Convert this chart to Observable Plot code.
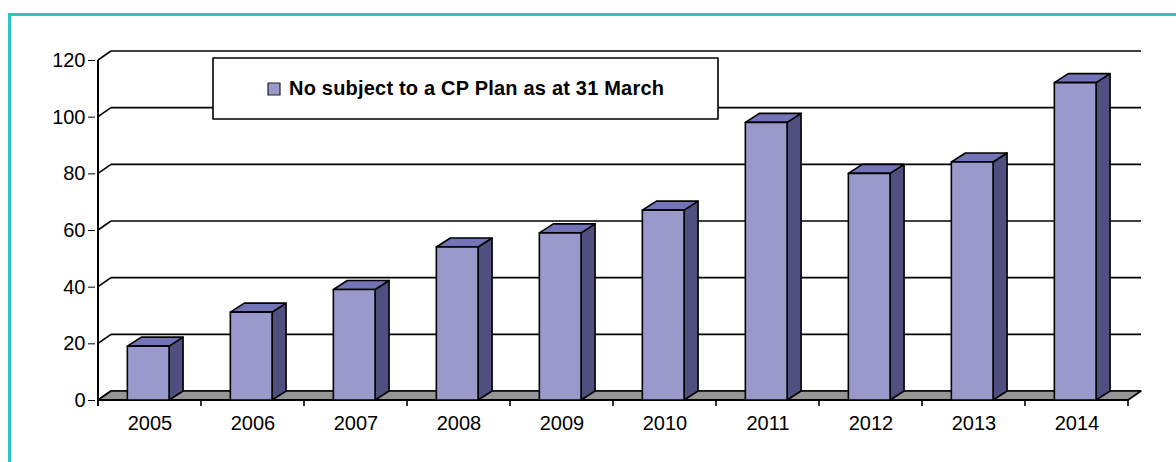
<!DOCTYPE html>
<html>
<head>
<meta charset="utf-8">
<script src="https://cdn.jsdelivr.net/npm/d3@7"></script>
<script src="https://cdn.jsdelivr.net/npm/@observablehq/plot@0.6"></script>
<style>
  html, body { margin: 0; padding: 0; background: #fff; }
  #wrap { position: relative; width: 1176px; height: 462px; overflow: hidden; }
  #frame { position: absolute; left: 8px; top: 13px; width: 1200px; height: 500px;
           border: 3px solid #2ec4bf; box-sizing: border-box; pointer-events: none; }
  #chart { position: absolute; left: 0; top: 0; }
</style>
</head>
<body>
<div id="wrap"><div id="chart"></div><div id="frame"></div></div>
<script>
// ---- data ----
const years = ["2005", "2006", "2007", "2008", "2009", "2010", "2011", "2012", "2013", "2014"];
const values = [19, 31, 39, 54, 59, 67, 98, 80, 84, 112];
const yTicks = [0, 20, 40, 60, 80, 100, 120];
const seriesLabel = "No subject to a CP Plan as at 31 March";

// ---- styles ----
const FRONT = "#9999cc", TOP = "#7373b8", SIDE = "#4f4f80", FLOOR = "#969696";
const DX = 13, DY = -9;       // wall depth (px)
const BDX = 14, BDY = -9;     // bar depth (px)
const SW = 1.6;

const rows = years.map((year, i) => ({year, value: values[i]}));

function scene(index, scales) {
  const x = scales.x, y = scales.y;
  const bw = x(years[1]) - x(years[0]);
  const xL = x(years[0]), xR = x(years[years.length - 1]) + bw;
  const y0 = y(0);
  const g = d3.create("svg:g").attr("stroke-linejoin", "round");

  // back wall gridlines + left diagonal connectors
  for (const t of yTicks) {
    const yy = y(t);
    g.append("line").attr("x1", xL + DX).attr("x2", xR + DX).attr("y1", yy + DY).attr("y2", yy + DY)
      .attr("stroke", "#000").attr("stroke-width", SW);
    g.append("line").attr("x1", xL).attr("x2", xL + DX).attr("y1", yy).attr("y2", yy + DY)
      .attr("stroke", "#000").attr("stroke-width", SW);
  }
  // floor
  g.append("path")
    .attr("d", `M${xL},${y0}L${xR},${y0}L${xR + DX},${y0 + DY}L${xL + DX},${y0 + DY}Z`)
    .attr("fill", FLOOR).attr("stroke", "#000").attr("stroke-width", SW);
  // y axis line
  g.append("line").attr("x1", xL).attr("x2", xL).attr("y1", y(yTicks[yTicks.length - 1])).attr("y2", y0 + 6)
    .attr("stroke", "#000").attr("stroke-width", SW + 0.4);
  // x axis line and boundary ticks
  g.append("line").attr("x1", xL).attr("x2", xR).attr("y1", y0).attr("y2", y0)
    .attr("stroke", "#000").attr("stroke-width", SW + 0.4);
  for (let i = 0; i <= years.length; i++) {
    const xx = xL + i * bw;
    g.append("line").attr("x1", xx).attr("x2", xx).attr("y1", y0).attr("y2", y0 + 6)
      .attr("stroke", "#000").attr("stroke-width", SW);
  }
  // bars
  for (const d of rows) {
    const b0 = x(d.year) + 0.285 * bw, b1 = x(d.year) + 0.69 * bw;
    const yv = y(d.value);
    g.append("path")
      .attr("d", `M${b1},${yv}L${b1 + BDX},${yv + BDY}L${b1 + BDX},${y0 + BDY}L${b1},${y0}Z`)
      .attr("fill", SIDE).attr("stroke", "#000").attr("stroke-width", SW);
    g.append("path")
      .attr("d", `M${b0},${yv}L${b1},${yv}L${b1 + BDX},${yv + BDY}L${b0 + BDX},${yv + BDY}Z`)
      .attr("fill", TOP).attr("stroke", "#000").attr("stroke-width", SW);
    g.append("rect").attr("x", b0).attr("y", yv).attr("width", b1 - b0).attr("height", y0 - yv)
      .attr("fill", FRONT).attr("stroke", "#000").attr("stroke-width", SW);
  }
  // legend box
  const lx = xL + 115, ly = y(yTicks[yTicks.length - 1]) - 2;
  const lg = g.append("g");
  lg.append("rect").attr("x", lx).attr("y", ly).attr("width", 505).attr("height", 61)
    .attr("fill", "#fff").attr("stroke", "#000").attr("stroke-width", SW);
  lg.append("rect").attr("x", lx + 55).attr("y", ly + 25).attr("width", 12).attr("height", 12)
    .attr("fill", FRONT).attr("stroke", "#222").attr("stroke-width", 1.2);
  lg.append("text").attr("x", lx + 76).attr("y", ly + 37)
    .attr("text-anchor", "start")
    .attr("font-size", 20).attr("font-weight", "bold").attr("letter-spacing", "0.2px")
    .attr("fill", "#000").attr("stroke", "none")
    .text(seriesLabel);
  return g.node();
}

const plot = Plot.plot({
  width: 1176,
  height: 462,
  marginLeft: 95,
  marginRight: 46,
  marginTop: 60,
  marginBottom: 62,
  style: {fontFamily: "'Liberation Sans', Arial, sans-serif", fontSize: "20px", background: "transparent", color: "#000"},
  x: {type: "band", domain: years, padding: 0, tickSize: 0, tickPadding: 15, label: null},
  y: {domain: [0, 120], ticks: yTicks, tickSize: 7, tickPadding: 3, label: null, tickFormat: d => String(d)},
  marks: [
    scene
  ]
});
document.getElementById("chart").appendChild(plot);
</script>
</body>
</html>
